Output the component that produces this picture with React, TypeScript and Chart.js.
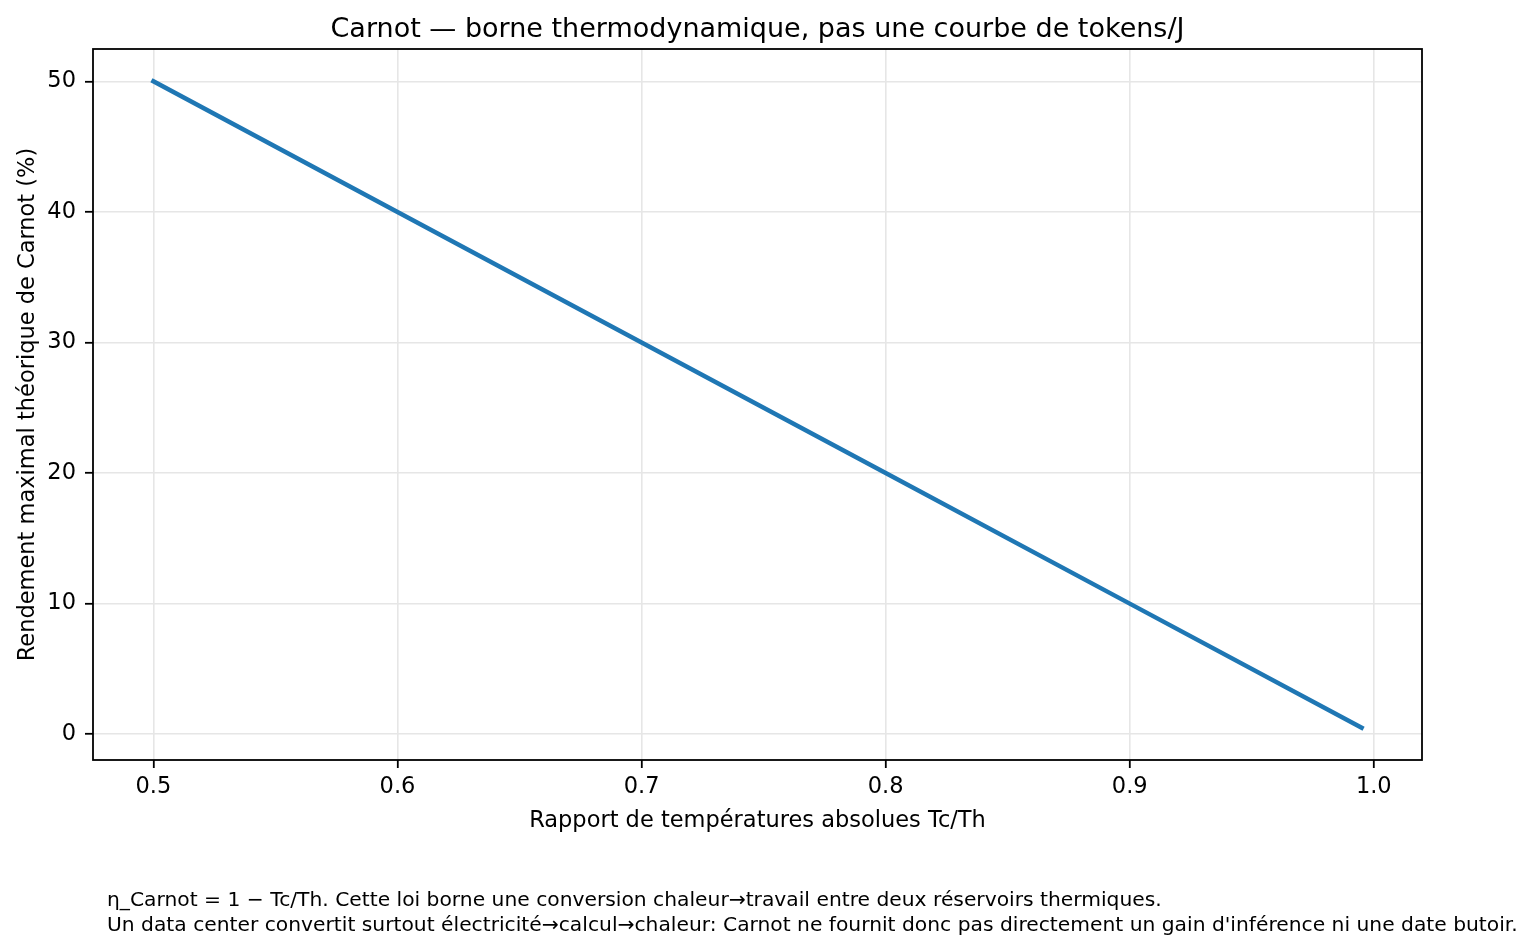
import React, { useEffect, useRef } from 'react'
import { Chart, registerables, ChartConfiguration, Plugin } from 'chart.js'

Chart.register(...registerables)

const ratios = [0.5, 0.6, 0.7, 0.8, 0.9, 0.995]
const efficiency = [50, 40, 30, 20, 10, 0.5]

const xTicks = [0.5, 0.6, 0.7, 0.8, 0.9, 1.0]
const yTicks = [0, 10, 20, 30, 40, 50]

const chartTitle = 'Carnot — borne thermodynamique, pas une courbe de tokens/J'
const xLabel = 'Rapport de températures absolues Tc/Th'
const yLabel = 'Rendement maximal théorique de Carnot (%)'
const footnote = [
  'η_Carnot = 1 − Tc/Th. Cette loi borne une conversion chaleur→travail entre deux réservoirs thermiques.',
  "Un data center convertit surtout électricité→calcul→chaleur: Carnot ne fournit donc pas directement un gain d'inférence ni une date butoir."
]

const FONT = "'DejaVu Sans', sans-serif"

// matplotlib-like box around the axes
const framePlugin: Plugin<'line'> = {
  id: 'frame',
  afterDraw(chart) {
    const { ctx, chartArea } = chart
    ctx.save()
    ctx.strokeStyle = '#000'
    ctx.lineWidth = 1.8
    ctx.strokeRect(chartArea.left, chartArea.top, chartArea.right - chartArea.left, chartArea.bottom - chartArea.top)
    ctx.restore()
  }
}

const CarnotChart: React.FC = () => {
  const canvasRef = useRef<HTMLCanvasElement | null>(null)

  useEffect(() => {
    document.body.style.margin = '0'
    if (!canvasRef.current) return

    const config: ChartConfiguration<'line'> = {
      type: 'line',
      data: {
        datasets: [
          {
            data: ratios.map((x, i) => ({ x, y: efficiency[i] })),
            borderColor: '#1f77b4',
            borderWidth: 4.5,
            borderCapStyle: 'square',
            pointRadius: 0,
            fill: false,
            tension: 0
          }
        ]
      },
      options: {
        responsive: false,
        animation: false,
        devicePixelRatio: 1,
        layout: { padding: { top: 0, left: 0, right: 114, bottom: 102 } },
        plugins: {
          legend: { display: false },
          tooltip: { enabled: false },
          title: {
            display: true,
            text: chartTitle,
            fullSize: false,
            color: '#000',
            font: { family: FONT, size: 27, weight: 'normal', lineHeight: 1.2 },
            padding: { top: 13.8, bottom: 2.8 }
          }
        },
        scales: {
          x: {
            type: 'linear',
            min: 0.47525,
            max: 1.01975,
            afterBuildTicks: (scale) => {
              scale.ticks = xTicks.map((value) => ({ value }))
            },
            afterFit: (scale) => {
              scale.height = 90
            },
            border: { display: false },
            grid: {
              color: '#e6e6e6',
              lineWidth: 1.6,
              tickColor: '#000',
              tickWidth: 1.8,
              tickLength: 8
            },
            ticks: {
              color: '#000',
              padding: 6,
              maxRotation: 0,
              font: { family: FONT, size: 22.5 },
              callback: (v) => Number(v).toFixed(1)
            },
            title: {
              display: true,
              text: xLabel,
              color: '#000',
              font: { family: FONT, size: 22.5, lineHeight: 1.2 },
              padding: { top: 0, bottom: 15.5 }
            }
          },
          y: {
            type: 'linear',
            min: -1.975,
            max: 52.475,
            afterBuildTicks: (scale) => {
              scale.ticks = yTicks.map((value) => ({ value }))
            },
            afterFit: (scale) => {
              scale.width = 93
            },
            border: { display: false },
            grid: {
              color: '#e6e6e6',
              lineWidth: 1.6,
              tickColor: '#000',
              tickWidth: 1.8,
              tickLength: 8
            },
            ticks: {
              color: '#000',
              padding: 9,
              font: { family: FONT, size: 22.5 },
              callback: (v) => String(v)
            },
            title: {
              display: true,
              text: yLabel,
              color: '#000',
              font: { family: FONT, size: 22.5, lineHeight: 1.2 },
              padding: { top: 15, bottom: 0 }
            }
          }
        }
      },
      plugins: [framePlugin]
    }

    const chart = new Chart(canvasRef.current, config)
    return () => {
      chart.destroy()
    }
  }, [])

  return (
    <div style={{ position: 'relative', width: 1536, height: 952, background: '#fff' }}>
      <canvas ref={canvasRef} width={1536} height={952} style={{ display: 'block' }} />
      <div
        style={{
          position: 'absolute',
          left: 107,
          top: 887,
          fontFamily: FONT,
          fontSize: 20.25,
          lineHeight: '25px',
          color: '#000',
          whiteSpace: 'nowrap'
        }}
      >
        {footnote.map((line) => (
          <div key={line}>{line}</div>
        ))}
      </div>
    </div>
  )
}

export default function App() {
  return <CarnotChart />
}
